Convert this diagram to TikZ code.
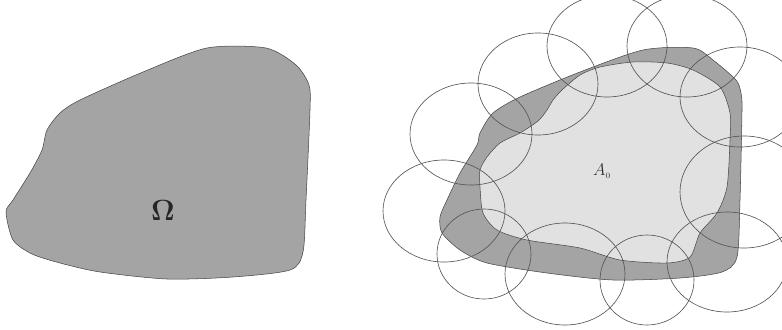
\documentclass[tikz,border=0pt]{standalone}
\definecolor{grisfonce}{RGB}{164,164,164}
\definecolor{grisclair}{RGB}{225,225,225}
\definecolor{contour}{RGB}{70,70,70}
\definecolor{cercle}{RGB}{85,85,85}
\usetikzlibrary{positioning}

\begin{document}
\begin{tikzpicture}[x=0.03cm,y=-0.03cm,
	domaine/.style={draw=contour,line width=0.45pt,fill=grisfonce},
	interieur/.style={draw=contour,line width=0.45pt,fill=grisclair},
	boule/.style={draw=cercle,line width=0.55pt}]
				\useasboundingbox (0,0) rectangle (782,329);
				\clip (0,0) rectangle (782,329);
				\draw[domaine] plot[smooth cycle,tension=0.45] coordinates {
					(6,212) (13,240) (32,254) (60,263) (100,272) (167,279) (233,277)
					(290,270) (303,252) (306,200) (310,110) (309,85) (296,65) (266,48)
					(207,48) (143,72) (80,100) (60,113) (47,130) (42,150) (30,173) (13,200)};
				\node[font=\fontsize{27}{27}\selectfont,text=black!85] (omega) at (163,210) {$\mathbf{\Omega}$};
				\draw[domaine] plot[smooth cycle,tension=0.45] coordinates {
					(440,217) (442,233) (460,250) (487,263) (547,273) (613,280) (680,278)
					(722,272) (737,257) (740,200) (742,110) (741,93) (736,80) (713,60)
					(693,48) (643,50) (580,72) (520,97) (493,113) (480,133) (477,145)
					(460,173) (447,200)};
				\draw[interieur] plot[smooth cycle,tension=0.45] coordinates {
					(480,187) (483,213) (497,230) (527,240) (580,248) (620,260) (667,263)
					(690,257) (700,233) (717,213) (727,187) (730,140) (730,113) (720,87)
					(693,70) (667,63) (633,62) (600,67) (580,75) (562,90) (553,100)
					(547,110) (538,121) (520,133) (500,143) (487,157) (480,170)};
				\node[font=\fontsize{15}{15}\selectfont,text=black!80] (a0) at (602,171) {$A_{\scriptscriptstyle 0}$};
				\foreach \cx/\cy/\rx/\ry in {538/84/60/51, 607/46/60/51, 687/46/60/51,
					740/97/60/50, 744/192/64/56, 727/262/60/50, 647/280/47/45,
					565/274/60/51, 484/254/47/45, 444/211/61/51, 471/134/61/51}
				\draw[boule] (\cx,\cy) ellipse [x radius=\rx,y radius=\ry];
			\end{tikzpicture}
\end{document}
